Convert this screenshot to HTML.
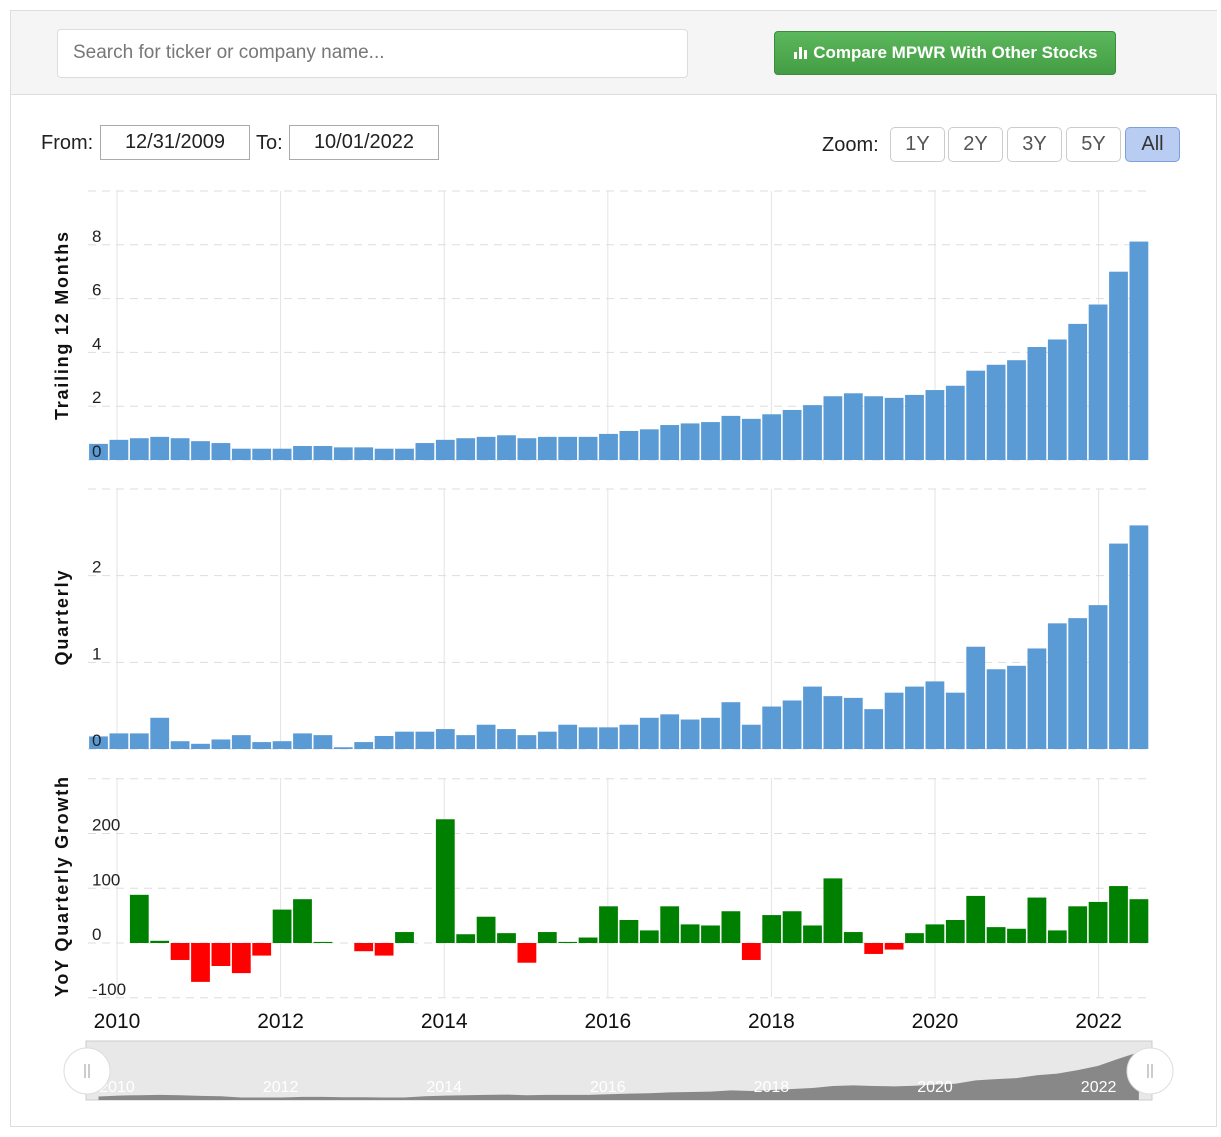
<!DOCTYPE html>
<html><head><meta charset="utf-8">
<style>
body{margin:0;width:1221px;height:1137px;background:#fff;font-family:"Liberation Sans",sans-serif;overflow:hidden;position:relative}
.box{position:absolute;left:10px;top:10px;width:1207px;height:1117px;border:1px solid #ddd;box-sizing:border-box}
.hdr{position:absolute;left:11px;top:11px;width:1206px;height:83px;background:#f5f5f5;border-bottom:1px solid #ddd}
.search{position:absolute;left:57px;top:29px;width:631px;height:49px;border:1px solid #ddd;border-radius:4px;background:#fff;box-sizing:border-box;font-size:19px;color:#777;padding:12px 15px}
.cmp{position:absolute;left:774px;top:31px;width:342px;height:44px;background:linear-gradient(#5cb85c,#449d44);border:1px solid #3d8b3d;border-radius:4px;box-sizing:border-box;color:#fff;font-weight:bold;font-size:17px;line-height:42px;text-align:center}
.lbl{position:absolute;font-size:20px;color:#222}
.date{position:absolute;top:125px;height:35px;border:1px solid #aaa;box-sizing:border-box;font-size:20px;text-align:center;line-height:33px;color:#222}
.zb{position:absolute;top:127px;height:35px;width:55px;border:1px solid #ccc;border-radius:5px;box-sizing:border-box;font-size:20px;text-align:center;line-height:33px;color:#555;background:#fff}
</style></head><body>
<div class="box"></div>
<div class="hdr"></div>
<div class="search">Search for ticker or company name...</div>
<div class="cmp"><svg width="16" height="16" viewBox="0 0 16 16" style="vertical-align:-2px"><rect x="1" y="8" width="3" height="7" fill="#fff"/><rect x="6" y="3" width="3" height="12" fill="#fff"/><rect x="11" y="6" width="3" height="9" fill="#fff"/></svg> Compare MPWR With Other Stocks</div>
<div class="lbl" style="left:41px;top:132px">From:</div>
<div class="date" style="left:100px;width:150px">12/31/2009</div>
<div class="lbl" style="left:256px;top:132px">To:</div>
<div class="date" style="left:289px;width:150px">10/01/2022</div>
<div class="lbl" style="left:822px;top:134px">Zoom:</div>
<div class="zb" style="left:890px">1Y</div>
<div class="zb" style="left:948px">2Y</div>
<div class="zb" style="left:1007px">3Y</div>
<div class="zb" style="left:1066px">5Y</div>
<div class="zb" style="left:1125px;background:#b9cdf3;border-color:#7f9fd8;color:#333">All</div>
<svg id="chart" width="1221" height="1137" style="position:absolute;left:0;top:0"></svg>
<script>
const years=["2010","2012","2014","2016","2018","2020","2022"];
const ttm=[0.6,0.75,0.81,0.86,0.81,0.7,0.63,0.42,0.42,0.42,0.52,0.52,0.47,0.47,0.42,0.42,0.63,0.75,0.81,0.86,0.92,0.81,0.86,0.86,0.86,0.97,1.08,1.14,1.3,1.36,1.41,1.64,1.53,1.7,1.86,2.04,2.37,2.48,2.37,2.31,2.42,2.6,2.76,3.32,3.54,3.71,4.2,4.48,5.06,5.78,7.0,8.12];
const quarterly=[0.145,0.18,0.18,0.36,0.09,0.06,0.11,0.16,0.08,0.09,0.18,0.16,0.02,0.08,0.15,0.2,0.2,0.23,0.16,0.28,0.23,0.16,0.2,0.28,0.25,0.25,0.28,0.36,0.4,0.34,0.36,0.54,0.28,0.49,0.56,0.72,0.61,0.59,0.46,0.65,0.72,0.78,0.65,1.18,0.92,0.96,1.16,1.45,1.51,1.66,2.37,2.58];
const growth=[null,null,88,4,-31,-71,-42,-55,-23,61,80,2,0,-15,-23,20,0,226,16,48,18,-36,20,2,10,67,42,23,67,34,32,58,-31,51,58,32,118,20,-20,-12,18,34,42,86,29,26,83,23,67,75,104,80];
const ttmTicks=[0,2,4,6,8];
const qTicks=[0,1,2];
const gTicks=[-100,0,100,200];

const svg=document.getElementById('chart');
const NS='http://www.w3.org/2000/svg';
function mk(tag,attrs,parent){const e=document.createElementNS(NS,tag);for(const k in attrs)e.setAttribute(k,attrs[k]);(parent||svg).appendChild(e);return e;}
const X0=88,X1=1150,step=20.4;
const xc=i=>98.5+step*i;
const yearX=y=>117+(parseInt(y)-2010)/2*163.6;

const panels=[
 {name:'ttm',data:ttm,ticks:ttmTicks,top:191,zero:460,max:10,min:0,title:'Trailing 12 Months',tc:326,tl:188},
 {name:'quarterly',data:quarterly,ticks:qTicks,top:489,zero:749,max:3,min:0,title:'Quarterly',tc:618,tl:95},
 {name:'growth',data:growth,ticks:gTicks,top:778,zero:943,max:300,min:-100,bottom:997,title:'YoY Quarterly Growth',tc:887,tl:220}
];
panels.forEach(p=>{
  const bot=p.bottom||p.zero;
  const scale=(bot-p.top)/(p.max-p.min);
  const y=v=>p.zero-v*scale;
  const g=mk('g',{});
  
  
  years.forEach(yr=>{const l=mk('line',{x1:yearX(yr),x2:yearX(yr),y1:p.top,y2:bot,stroke:'#e3e3e3','stroke-width':1},g);
    });
  const gl=[...p.ticks,p.max];
  gl.forEach(t=>{const l=mk('line',{x1:X0,x2:X1,y1:y(t),y2:y(t),stroke:'#ddd','stroke-dasharray':'8,6'},g);
    });
  p.data.forEach((v,i)=>{
    if(v===null)return;
    const top=Math.min(y(v),p.zero),h=Math.abs(y(v)-p.zero);
    const fill=p.name==='growth'?(v>=0?'#008000':'#ff0000'):'#5b9bd5';
    const r=mk('rect',{x:xc(i)-9.4,y:top,width:18.8,height:h,fill:fill},g);
    
    
  });
  p.ticks.forEach(t=>{const tx=mk('text',{x:92,y:y(t)-3,'font-size':17,fill:'#222'},g);tx.textContent=t;
    });
  const t=mk('text',{x:0,y:0,transform:`translate(68,${p.tc}) rotate(-90)`,'text-anchor':'middle','font-size':18,'font-weight':'bold',fill:'#111',textLength:p.tl,lengthAdjust:'spacing'},g);
  t.textContent=p.title;
  
});
years.forEach(yr=>{const t=mk('text',{x:yearX(yr),y:1028,'text-anchor':'middle','font-size':21,fill:'#111'});t.textContent=yr;
  });
const nav=mk('g',{});

mk('rect',{x:86,y:1041,width:1066,height:59,fill:'#e8e8e8',stroke:'#ccc'},nav);
const ny=v=>1100-v*5.9;
let d=`M${xc(0)},1100`;ttm.forEach((v,i)=>{d+=` L${xc(i)},${ny(v)}`;});d+=` L${xc(ttm.length-1)},1100 Z`;
const a=mk('path',{d:d,fill:'#888'},nav);

years.forEach(yr=>{const t=mk('text',{x:yearX(yr),y:1092,'text-anchor':'middle','font-size':16,fill:'#fff'},nav);t.textContent=yr;
  });
[87,1150].forEach(cx=>{const c=mk('circle',{cx:cx,cy:1071,r:23,fill:'#fff',stroke:'#ddd'},nav);
  
  mk('line',{x1:cx-2,x2:cx-2,y1:1064,y2:1078,stroke:'#999'},nav);mk('line',{x1:cx+2,x2:cx+2,y1:1064,y2:1078,stroke:'#999'},nav);});
</script>
</body></html>
